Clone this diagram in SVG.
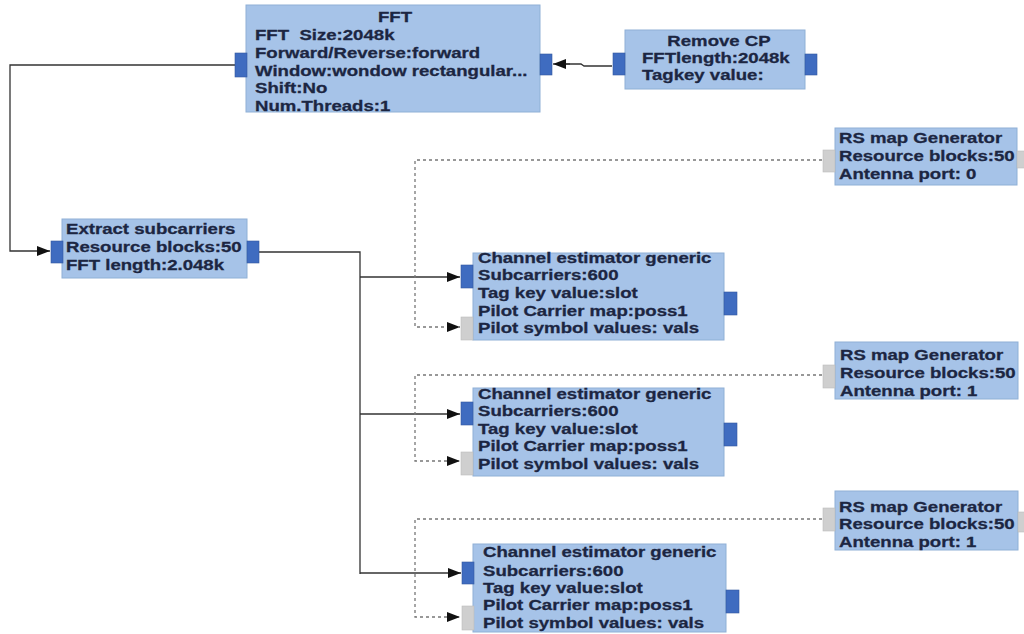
<svg xmlns="http://www.w3.org/2000/svg" width="1024" height="634" viewBox="0 0 1024 634">
  <defs>
    <style>
      .blk { fill: #a6c3e8; stroke: #8fb0d6; stroke-width: 1; }
      .pin { fill: #3f6cc0; stroke: #34599e; stroke-width: 0.6; }
      .pin-msg { fill: #cfcfcf; stroke: #bdbdbd; stroke-width: 0.6; }
      .lbl { font-family: "Liberation Sans", Arial, sans-serif; font-weight: bold; font-size: 15.5px; fill: #1c2642; stroke: #1c2642; stroke-width: 0.3; }
      .ttl { text-anchor: middle; }
      .wire { fill: none; stroke: #333333; stroke-width: 1.3; }
      .msg { fill: none; stroke: #777777; stroke-width: 1.3; stroke-dasharray: 3 3; }
    </style>
    <marker id="arr" viewBox="0 0 13 10" refX="13" refY="5" markerWidth="13" markerHeight="10" markerUnits="userSpaceOnUse" orient="auto">
      <path d="M0,0 L13,5 L0,10 z" fill="#111111"/>
    </marker>
  </defs>

  <rect width="1024" height="634" fill="#ffffff"/>

  <!-- connectors -->
  <g id="connectors">
    <!-- Remove CP -> FFT -->
    <path class="wire" d="M612,66 L584,66 L581,64 L566,64" />
    <path class="wire" d="M570,64 L553,64" marker-end="url(#arr)"/>
    <!-- FFT -> Extract subcarriers -->
    <path class="wire" d="M235,65 L10,65 L10,251 L50,251" marker-end="url(#arr)"/>
    <!-- Extract subcarriers -> channel estimators -->
    <path class="wire" d="M259,252 L360,252 L360,574" />
    <path class="wire" d="M360,277 L460,277" marker-end="url(#arr)"/>
    <path class="wire" d="M360,414 L460,414" marker-end="url(#arr)"/>
    <path class="wire" d="M360,573 L461,573" marker-end="url(#arr)"/>
    <!-- RS map generators -> pilot inputs -->
    <path class="msg" d="M822,160 L415,160 L415,327 L460,327" marker-end="url(#arr)"/>
    <path class="msg" d="M822,375 L415,375 L415,461 L460,461" marker-end="url(#arr)"/>
    <path class="msg" d="M822,519 L415,519 L415,617 L460,617" marker-end="url(#arr)"/>
  </g>

  <!-- FFT -->
  <g id="fft">
    <rect class="blk" x="246" y="5" width="294" height="107"/>
    <rect class="pin" x="235" y="53" width="12" height="24"/>
    <rect class="pin" x="540" y="54" width="12" height="21"/>
    <g transform="translate(395,0) scale(1.2,1)"><text class="lbl ttl" x="0" y="22">FFT</text></g>
    <g transform="translate(255,0) scale(1.2,1)">
      <text class="lbl" x="0" y="40" xml:space="preserve">FFT  Size:2048k</text>
      <text class="lbl" x="0" y="58">Forward/Reverse:forward</text>
      <text class="lbl" x="0" y="76">Window:wondow rectangular...</text>
      <text class="lbl" x="0" y="93">Shift:No</text>
      <text class="lbl" x="0" y="111">Num.Threads:1</text>
    </g>
  </g>

  <!-- Remove CP -->
  <g id="remove-cp">
    <rect class="blk" x="625" y="30" width="180" height="59"/>
    <rect class="pin" x="613" y="53" width="12" height="22"/>
    <rect class="pin" x="805" y="54" width="12" height="21"/>
    <g transform="translate(719,0) scale(1.2,1)"><text class="lbl ttl" x="0" y="46">Remove CP</text></g>
    <g transform="translate(642,0) scale(1.2,1)">
      <text class="lbl" x="0" y="63">FFTlength:2048k</text>
      <text class="lbl" x="0" y="80">Tagkey value:</text>
    </g>
  </g>

  <!-- Extract subcarriers -->
  <g id="extract-subcarriers">
    <rect class="blk" x="62" y="219" width="185" height="59"/>
    <rect class="pin" x="51" y="241" width="12" height="22"/>
    <rect class="pin" x="247" y="241" width="12" height="22"/>
    <g transform="translate(66,0) scale(1.2,1)">
      <text class="lbl" x="0" y="234">Extract subcarriers</text>
      <text class="lbl" x="0" y="252">Resource blocks:50</text>
      <text class="lbl" x="0" y="270">FFT length:2.048k</text>
    </g>
  </g>

  <!-- RS map Generator (port 0) -->
  <g id="rs-map-0">
    <rect class="blk" x="835" y="128" width="182" height="57"/>
    <rect class="pin-msg" x="823" y="150" width="12" height="22"/>
    <rect class="pin-msg" x="1017" y="151" width="10" height="17"/>
    <g transform="translate(839,0) scale(1.2,1)">
      <text class="lbl" x="0" y="143">RS map Generator</text>
      <text class="lbl" x="0" y="161">Resource blocks:50</text>
      <text class="lbl" x="0" y="179">Antenna port: 0</text>
    </g>
  </g>

  <!-- Channel estimator generic 1 -->
  <g id="chan-est-1">
    <rect class="blk" x="473" y="253" width="251" height="87"/>
    <rect class="pin" x="461" y="265" width="12" height="23"/>
    <rect class="pin-msg" x="461" y="317" width="12" height="23"/>
    <rect class="pin" x="724" y="292" width="13" height="23"/>
    <g transform="translate(478,0) scale(1.2,1)">
      <text class="lbl" x="0" y="263">Channel estimator generic</text>
      <text class="lbl" x="0" y="280">Subcarriers:600</text>
      <text class="lbl" x="0" y="298">Tag key value:slot</text>
      <text class="lbl" x="0" y="316">Pilot Carrier map:poss1</text>
      <text class="lbl" x="0" y="333">Pilot symbol values: vals</text>
    </g>
  </g>

  <!-- RS map Generator (port 1, upper) -->
  <g id="rs-map-1a">
    <rect class="blk" x="835" y="342" width="183" height="57"/>
    <rect class="pin-msg" x="823" y="365" width="12" height="23"/>
    <g transform="translate(840,0) scale(1.2,1)">
      <text class="lbl" x="0" y="360">RS map Generator</text>
      <text class="lbl" x="0" y="378">Resource blocks:50</text>
      <text class="lbl" x="0" y="396">Antenna port: 1</text>
    </g>
  </g>

  <!-- Channel estimator generic 2 -->
  <g id="chan-est-2">
    <rect class="blk" x="473" y="388" width="251" height="88"/>
    <rect class="pin" x="461" y="402" width="12" height="23"/>
    <rect class="pin-msg" x="461" y="452" width="12" height="23"/>
    <rect class="pin" x="724" y="423" width="13" height="23"/>
    <g transform="translate(478,0) scale(1.2,1)">
      <text class="lbl" x="0" y="399">Channel estimator generic</text>
      <text class="lbl" x="0" y="416">Subcarriers:600</text>
      <text class="lbl" x="0" y="434">Tag key value:slot</text>
      <text class="lbl" x="0" y="451">Pilot Carrier map:poss1</text>
      <text class="lbl" x="0" y="469">Pilot symbol values: vals</text>
    </g>
  </g>

  <!-- RS map Generator (port 1, lower) -->
  <g id="rs-map-1b">
    <rect class="blk" x="835" y="491" width="183" height="59"/>
    <rect class="pin-msg" x="823" y="508" width="12" height="23"/>
    <rect class="pin-msg" x="1018" y="512" width="10" height="20"/>
    <g transform="translate(839,0) scale(1.2,1)">
      <text class="lbl" x="0" y="512">RS map Generator</text>
      <text class="lbl" x="0" y="529">Resource blocks:50</text>
      <text class="lbl" x="0" y="547">Antenna port: 1</text>
    </g>
  </g>

  <!-- Channel estimator generic 3 -->
  <g id="chan-est-3">
    <rect class="blk" x="473" y="544" width="253" height="88"/>
    <rect class="pin" x="462" y="562" width="12" height="22"/>
    <rect class="pin-msg" x="462" y="606" width="12" height="24"/>
    <rect class="pin" x="726" y="590" width="13" height="23"/>
    <g transform="translate(483,0) scale(1.2,1)">
      <text class="lbl" x="0" y="557">Channel estimator generic</text>
      <text class="lbl" x="0" y="576">Subcarriers:600</text>
      <text class="lbl" x="0" y="593">Tag key value:slot</text>
      <text class="lbl" x="0" y="610">Pilot Carrier map:poss1</text>
      <text class="lbl" x="0" y="628">Pilot symbol values: vals</text>
    </g>
  </g>
</svg>
